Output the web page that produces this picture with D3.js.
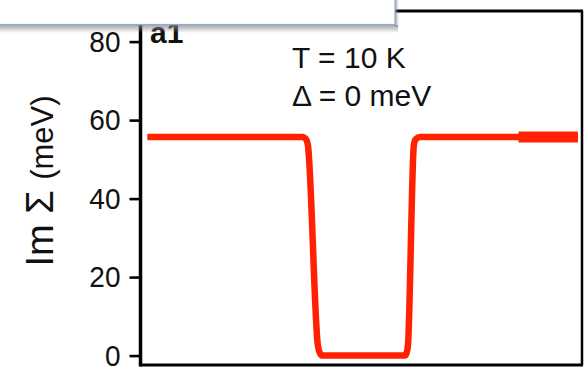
<!DOCTYPE html>
<html>
<head>
<meta charset="utf-8">
<script src="https://cdn.jsdelivr.net/npm/d3@7"></script>
<style>
  html, body { margin: 0; padding: 0; background: #fff; }
  svg { display: block; font-family: "Liberation Sans", Arial, sans-serif; }
</style>
</head>
<body>
<script>
// Imaginary part of the self-energy vs. energy (meV)
const omega    = [-116.3, -32, -30, -29, -23.6, -22.5, -21.3, 23.8, 24.6, 25.4, 28.6, 29.6, 32, 117.8];
const imSigma  = [55.7, 55.7, 55.1, 53.6, 2.7, 0.6, 0, 0, 0.6, 2.7, 53.6, 55.1, 55.7, 55.7];
// Highlighted stretch at the high-energy end
const hiOmega  = [85.5, 117.8];
const hiSigma  = [55.7, 55.7];
const yTicks   = [0, 20, 40, 60, 80];
const annotations = ["T = 10 K", "\u0394 = 0 meV"];
const panelLabel = "a1";

const W = 584, H = 372;
const frame = { left: 140.5, right: 582, top: 11, bottom: 365 };

const svg = d3.select("body").append("svg")
  .attr("width", W).attr("height", H);

const x = d3.scaleLinear().domain([-120, 120]).range([frame.left, frame.right]);
const y = d3.scaleLinear().domain([-2.4, 87.8]).range([frame.bottom, frame.top]);

// Frame
svg.append("line").attr("x1", frame.left).attr("x2", frame.right + 1)
  .attr("y1", frame.top).attr("y2", frame.top).attr("stroke", "#000").attr("stroke-width", 3);
svg.append("line").attr("x1", frame.right).attr("x2", frame.right)
  .attr("y1", frame.top).attr("y2", frame.bottom).attr("stroke", "#000").attr("stroke-width", 2.5);
svg.append("line").attr("x1", frame.left).attr("x2", frame.right + 1)
  .attr("y1", frame.bottom).attr("y2", frame.bottom).attr("stroke", "#000").attr("stroke-width", 3.2);

// Left axis
const yAxis = d3.axisLeft(y).tickValues(yTicks).tickSize(11).tickPadding(9).tickSizeOuter(0);
const gy = svg.append("g").attr("transform", `translate(${frame.left},0)`).call(yAxis);
gy.select(".domain").attr("stroke-width", 3.5)
  .attr("d", `M0,${frame.top}V${frame.bottom + 1.5}`);
gy.selectAll(".tick line").attr("stroke-width", 2.6);
gy.selectAll(".tick text")
  .attr("font-size", 28).attr("fill", "#111")
  .attr("font-family", "'Liberation Sans', Arial, sans-serif")
  .attr("transform", "scale(1,1.06)");

// Y-axis title
const yt = svg.append("text")
  .attr("transform", "translate(53,181) rotate(-90)")
  .attr("text-anchor", "middle").attr("fill", "#111");
yt.append("tspan").attr("font-size", 38).text("Im \u03A3 ");
yt.append("tspan").attr("font-size", 31).text("(meV)");

// Curve
const line = d3.line().x(d => x(d[0])).y(d => y(d[1])).curve(d3.curveMonotoneX);
svg.append("path")
  .datum(d3.zip(omega, imSigma))
  .attr("d", line)
  .attr("fill", "none").attr("stroke", "#ff2200")
  .attr("stroke-width", 6.5).attr("stroke-linejoin", "round");

svg.append("path")
  .datum(d3.zip(hiOmega, hiSigma))
  .attr("d", d3.line().x(d => x(d[0])).y(d => y(d[1])))
  .attr("fill", "none").attr("stroke", "#ff2200").attr("stroke-width", 11);

// Annotations
annotations.forEach((t, i) => {
  svg.append("text").attr("x", 292).attr("y", 68 + i * 38)
    .attr("font-size", 30).attr("fill", "#111").text(t);
});

// Panel label
svg.append("text").attr("x", 150).attr("y", 43)
  .attr("font-size", 30).attr("font-weight", "bold").attr("fill", "#111").text(panelLabel);

// Window overlay with soft shadow along the top
const defs = svg.append("defs");
const gV = defs.append("linearGradient").attr("id", "shadowV").attr("x1", 0).attr("x2", 0).attr("y1", 0).attr("y2", 1);
gV.append("stop").attr("offset", 0).attr("stop-color", "#888").attr("stop-opacity", 0.75);
gV.append("stop").attr("offset", 1).attr("stop-color", "#888").attr("stop-opacity", 0);
const gH = defs.append("linearGradient").attr("id", "shadowH").attr("x1", 0).attr("x2", 1).attr("y1", 0).attr("y2", 0);
gH.append("stop").attr("offset", 0).attr("stop-color", "#888").attr("stop-opacity", 0.75);
gH.append("stop").attr("offset", 1).attr("stop-color", "#888").attr("stop-opacity", 0);

svg.append("rect").attr("x", 0).attr("y", 25).attr("width", 398).attr("height", 8).attr("fill", "url(#shadowV)");
svg.append("rect").attr("x", 395).attr("y", 0).attr("width", 4).attr("height", 27).attr("fill", "url(#shadowH)");
svg.append("rect").attr("x", -2).attr("y", -2).attr("width", 397).attr("height", 26.5)
  .attr("fill", "#fff").attr("stroke", "#8fabd6").attr("stroke-width", 1.2);
</script>
</body>
</html>
